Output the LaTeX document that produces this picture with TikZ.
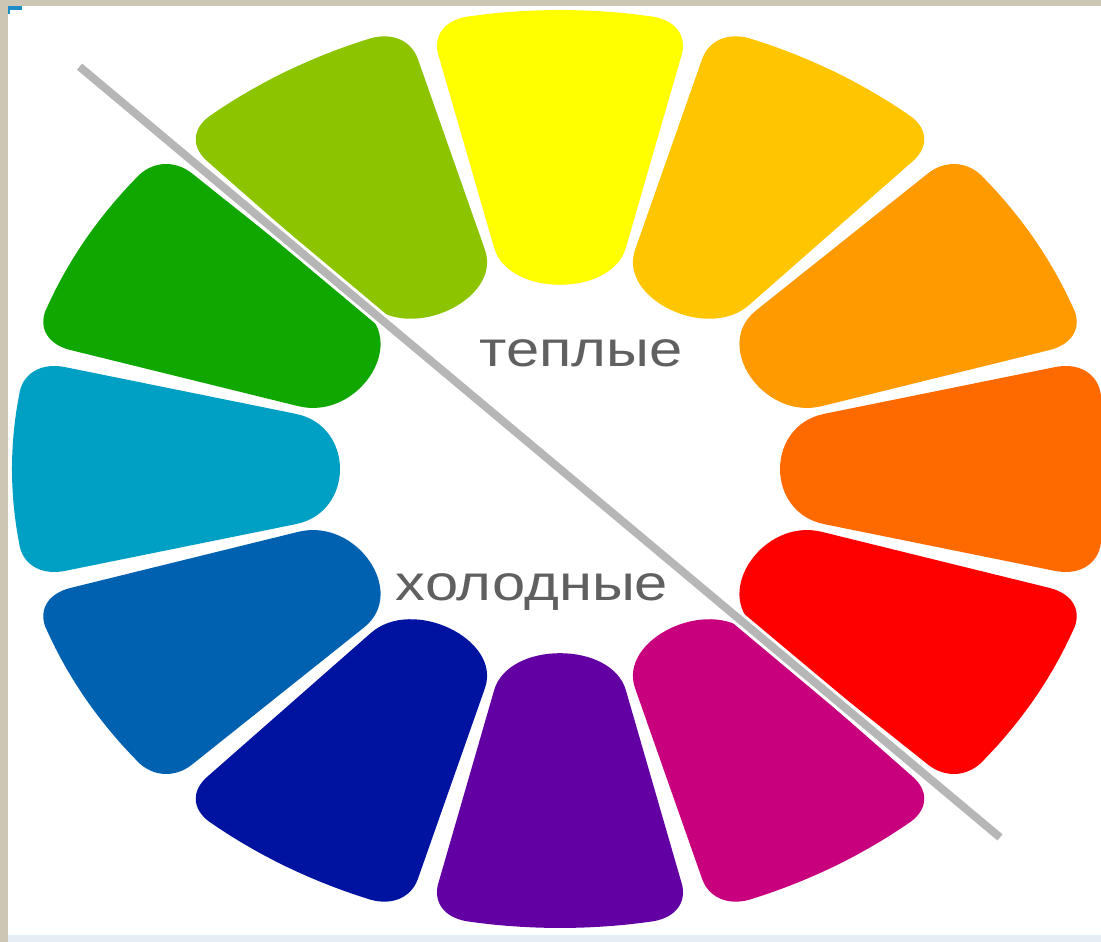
\documentclass[tikz,border=0pt]{standalone}
\usepackage{fontspec}
\usetikzlibrary{calc}
\newfontfamily\labelfont{Liberation Sans}
\definecolor{bgbeige}{RGB}{204,198,180}
\definecolor{stripblue}{RGB}{228,238,244}
\definecolor{markblue}{RGB}{30,140,200}
\definecolor{labelgray}{RGB}{96,96,96}
\definecolor{linegray}{RGB}{182,182,182}
\definecolor{cwYellow}{RGB}{255,255,0}
\definecolor{cwYellowOrange}{RGB}{255,198,0}
\definecolor{cwOrange}{RGB}{255,154,0}
\definecolor{cwRedOrange}{RGB}{255,106,0}
\definecolor{cwRed}{RGB}{255,0,0}
\definecolor{cwMagenta}{RGB}{200,0,126}
\definecolor{cwViolet}{RGB}{98,0,164}
\definecolor{cwDarkBlue}{RGB}{0,19,160}
\definecolor{cwBlue}{RGB}{0,97,176}
\definecolor{cwCyan}{RGB}{0,160,196}
\definecolor{cwGreen}{RGB}{16,168,0}
\definecolor{cwYellowGreen}{RGB}{140,196,0}
\begin{document}
\begin{tikzpicture}[x=1pt,y=1pt,
  lbl/.style={font=\labelfont\fontsize{50}{52}\selectfont, text=labelgray,
              inner sep=0pt, anchor=base, xscale=1.194},
  divider/.style={draw=linegray, line width=8pt},
  halo/.style={draw=white, line width=14pt}]
\useasboundingbox (0,0) rectangle (1101,942);
% frame
\fill[bgbeige] (0,0) rectangle (1101,942);
\fill[white] (8,7) rectangle (1101,936);
\fill[stripblue] (8,0) rectangle (1101,7);
\fill[markblue] (8,936) rectangle (22,932);
\fill[markblue] (8,936) rectangle (10,928);
% wheel
\begin{scope}[shift={(560,473)}, xscale=1.194]
  \foreach \ang/\col in {90/cwYellow, 60/cwYellowOrange, 30/cwOrange, 0/cwRedOrange,
                         -30/cwRed, -60/cwMagenta, -90/cwViolet, -120/cwDarkBlue,
                         -150/cwBlue, 180/cwCyan, 150/cwGreen, 120/cwYellowGreen} {
    \coordinate (Al) at (\ang+13.8:459);
    \coordinate (Ar) at (\ang-13.8:459);
    \coordinate (Bl) at (\ang+14:228);
    \coordinate (Br) at (\ang-14:228);
    \coordinate (Sl) at ($(Al)!0.14!(Bl)$);
    \coordinate (Sr) at ($(Ar)!0.14!(Br)$);
    \coordinate (El) at (\ang+9.8:459);
    \coordinate (Er) at (\ang-9.8:459);
    \coordinate (Il) at ($(Bl)!-0.22!(Al)$);
    \coordinate (Ir) at ($(Br)!-0.22!(Ar)$);
    \fill[\col] (Bl) -- (Sl)
      .. controls ($(Sl)!0.6!(Al)$) and ($(El)!0.6!(Al)$) .. (El)
      -- (\ang+8.4:459) -- (\ang+7:459) -- (\ang+5.6:459) -- (\ang+4.2:459)
      -- (\ang+2.8:459) -- (\ang+1.4:459) -- (\ang:459) -- (\ang-1.4:459)
      -- (\ang-2.8:459) -- (\ang-4.2:459) -- (\ang-5.6:459) -- (\ang-7:459)
      -- (\ang-8.4:459) -- (Er)
      .. controls ($(Er)!0.6!(Ar)$) and ($(Sr)!0.6!(Ar)$) .. (Sr)
      -- (Br) .. controls (Ir) and (Il) .. (Bl) -- cycle;
  }
  \coordinate (lineA) at (135:569);
  \coordinate (lineB) at (-45:521);
  \draw[halo] (lineA) -- (lineB);
  \draw[divider] (lineA) -- (lineB);
\end{scope}
\node[lbl] (warm) at (581,575) {теплые};
\node[lbl] (cold) at (532,341) {холодные};
\end{tikzpicture}
\end{document}
